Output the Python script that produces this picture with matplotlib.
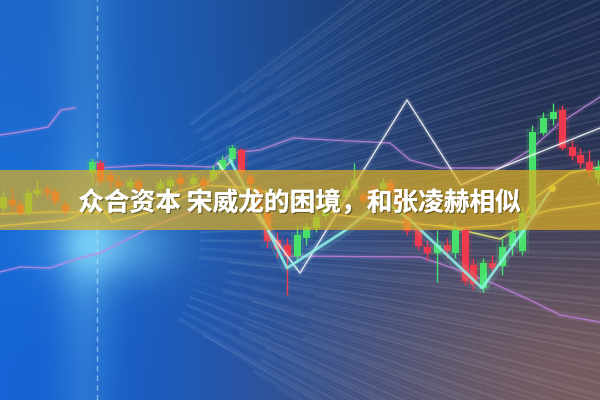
import numpy as np
import matplotlib
matplotlib.use("Agg")
import matplotlib.pyplot as plt
import matplotlib.patheffects as pe

plt.rcParams['font.family'] = ['Noto Sans CJK SC', 'DejaVu Sans']

title = "众合资本 宋威龙的困境，和张凌赫相似"

# candles: x position, open, close, high, low (levels, smaller = higher on screen)
candle_x = [3, 12, 20, 28, 37, 47, 55, 65, 92, 100, 110, 118, 130, 138, 160, 170, 180,
            193, 203, 213, 222, 232, 241, 250, 258, 267, 277, 287, 297, 306, 316, 325,
            337, 346, 354, 363, 373, 383, 390, 398, 407, 418, 427, 437, 447, 455, 465,
            473, 483, 492, 502, 512, 522, 532, 543, 553, 562, 572, 580, 589, 598]
candle_open = [207, 200, 205, 212, 193, 190, 192, 205, 172, 163, 175, 182, 186, 182, 188, 185, 178,
               183, 180, 178, 168, 158, 150, 177, 190, 213, 240, 245, 255, 237, 227, 215,
               205, 196, 188, 195, 190, 188, 183, 195, 215, 228, 247, 252, 245, 252, 230,
               265, 287, 263, 265, 245, 250, 213, 132, 118, 110, 147, 155, 162, 177]
candle_close = [197, 204, 212, 193, 190, 192, 200, 210, 162, 180, 180, 185, 182, 187, 183, 180, 183,
                178, 185, 170, 160, 148, 172, 183, 210, 240, 248, 255, 235, 227, 217, 207,
                198, 190, 180, 200, 195, 183, 190, 205, 230, 245, 252, 245, 250, 230, 280,
                283, 263, 267, 247, 233, 213, 132, 118, 112, 147, 155, 162, 170, 168]
candle_high = [190, 187, 200, 188, 180, 185, 188, 200, 158, 160, 170, 175, 177, 177, 178, 175, 172,
               173, 175, 165, 155, 145, 148, 172, 185, 205, 232, 238, 225, 222, 212, 200,
               192, 185, 163, 190, 185, 178, 178, 190, 208, 220, 240, 230, 238, 222, 225,
               258, 258, 255, 238, 225, 205, 125, 112, 103, 105, 140, 148, 150, 160]
candle_low = [212, 212, 215, 215, 198, 198, 205, 215, 185, 185, 190, 190, 190, 192, 192, 190, 190,
              188, 190, 182, 172, 165, 180, 190, 215, 248, 258, 295, 262, 245, 232, 220,
              210, 200, 195, 205, 200, 192, 195, 212, 235, 250, 260, 282, 258, 258, 285,
              290, 292, 272, 275, 255, 255, 215, 135, 125, 150, 160, 168, 178, 185]

# moving-average style lines (x, level)
purple1_x = [0, 20, 48, 61, 75]
purple1_y = [135, 132, 127, 110, 108]
purple2_x = [100, 150, 213, 233, 260, 293, 330, 390, 410, 440, 500, 530, 560, 600]
purple2_y = [168, 165, 167, 153, 150, 138, 140, 143, 160, 168, 168, 150, 123, 97]
purple3_x = [0, 20, 50, 80, 100, 120, 140, 150, 175, 200]
purple3_y = [272, 267, 268, 258, 253, 243, 233, 227, 218, 208]
purple4_x = [290, 420, 450, 490, 530, 560, 600]
purple4_y = [256, 257, 267, 282, 300, 315, 322]
white_x = [218, 300, 407, 461, 500, 600]
white_y = [163, 273, 100, 185, 168, 128]
cyan_x = [230, 268, 287, 346, 383, 410, 482, 524, 552]
cyan_y = [160, 230, 268, 230, 200, 220, 288, 230, 188]
yellow1_x = [0, 67, 100, 112, 147, 200, 232]
yellow1_y = [226, 220, 205, 222, 213, 190, 160]
yellow2_x = [0, 50, 113, 150, 200, 250, 300, 340, 400, 460, 500, 550, 600]
yellow2_y = [214, 212, 213, 200, 185, 188, 200, 215, 222, 228, 225, 210, 203]
yellow3_x = [440, 500, 520, 532, 550, 570, 600]
yellow3_y = [225, 239, 228, 200, 187, 173, 167]

W, H = 600, 400
fig = plt.figure(figsize=(6, 4), dpi=100)
ax = fig.add_axes([0, 0, 1, 1])
ax.set_xlim(0, W)
ax.set_ylim(H, 0)
ax.axis("off")

# background gradient
grid = np.array([
    [(30, 105, 205), (30, 70, 135), (30, 45, 80)],
    [(25, 112, 220), (35, 75, 145), (50, 55, 85)],
    [(20, 100, 215), (45, 75, 140), (125, 95, 95)],
]) / 255.0
ax.imshow(grid, extent=(0, W, H, 0), interpolation="bicubic", aspect="auto", zorder=0)

# light beam and glow on the left
xx, yy = np.meshgrid(np.arange(W), np.arange(H))
beam = np.exp(-((xx - 85) / 28.0) ** 2) * (0.35 + 0.5 * np.exp(-((yy - 240) / 70.0) ** 2))
glow = np.exp(-(((xx - 110) / 60.0) ** 2 + ((yy - 245) / 35.0) ** 2))
alpha = np.clip(0.45 * beam + 0.5 * glow, 0, 1)
overlay = np.zeros((H, W, 4))
overlay[..., 0] = 0.55
overlay[..., 1] = 0.9
overlay[..., 2] = 1.0
overlay[..., 3] = alpha
ax.imshow(overlay, extent=(0, W, H, 0), aspect="auto", zorder=1)

# speed streaks radiating from the left
angles = np.deg2rad(np.linspace(-38, 32, 120))
widths = [0.6, 1.8, 0.9, 3.0, 1.2, 0.7, 2.2, 1.0]
alphas = [0.06, 0.10, 0.05, 0.08, 0.12, 0.05, 0.07, 0.09]
for i, a in enumerate(angles):
    r0, r1 = 160 + (i % 5) * 30, 800
    x0, y0 = 40 + r0 * np.cos(a), 240 + r0 * np.sin(a)
    x1, y1 = 40 + r1 * np.cos(a), 240 + r1 * np.sin(a)
    ax.plot([x0, x1], [y0, y1], color="#d5e2f5", lw=widths[i % 8],
            alpha=alphas[i % 8], solid_capstyle="butt", zorder=2)

ax.axvline(97, color="#bfe8ff", lw=1, ls=(0, (4, 3)), alpha=0.6, zorder=3)

# lines
def glow_line(xs, ys, color, lw, z=4):
    ax.plot(xs, ys, color=color, lw=lw * 4, alpha=0.12, zorder=z)
    ax.plot(xs, ys, color=color, lw=lw, alpha=0.85, zorder=z)

glow_line(purple1_x, purple1_y, "#c98be0", 1.0)
glow_line(purple2_x, purple2_y, "#b985d8", 1.0)
glow_line(purple3_x, purple3_y, "#b98ce6", 1.0)
glow_line(purple4_x, purple4_y, "#c07fdc", 1.0)
glow_line(yellow1_x, yellow1_y, "#f3f0a0", 1.0)
glow_line(yellow2_x, yellow2_y, "#f0e890", 1.0)
glow_line(yellow3_x, yellow3_y, "#e8f070", 1.2)
glow_line(white_x, white_y, "#ffffff", 1.0, z=6)
glow_line(cyan_x, cyan_y, "#8ff5e8", 2.0, z=6)
ax.plot(cyan_x[-1], cyan_y[-1], "o", color="#d8f870", ms=4, zorder=6)

# candlesticks
for x, o, c, h, l in zip(candle_x, candle_open, candle_close, candle_high, candle_low):
    col = "#46e06a" if c < o else "#ee3a4c"
    ax.vlines(x, h, l, color=col, lw=1, zorder=5)
    ax.bar(x, abs(o - c) + 1, bottom=min(o, c), width=7, color=col, zorder=5)
    ax.bar(x, abs(o - c) + 6, bottom=min(o, c) - 3, width=13, color=col, alpha=0.15, zorder=5)

# banner
ax.axhspan(170, 230, color="#e0b020", alpha=0.7, lw=0, zorder=7)

ax.text(300, 203, title, color="white", fontsize=18.5, fontweight="bold",
        ha="center", va="center", zorder=8,
        path_effects=[pe.withSimplePatchShadow(offset=(1, -1), shadow_rgbFace="black", alpha=0.35),
                      pe.Normal()])

fig.savefig("out.png", dpi=100)
